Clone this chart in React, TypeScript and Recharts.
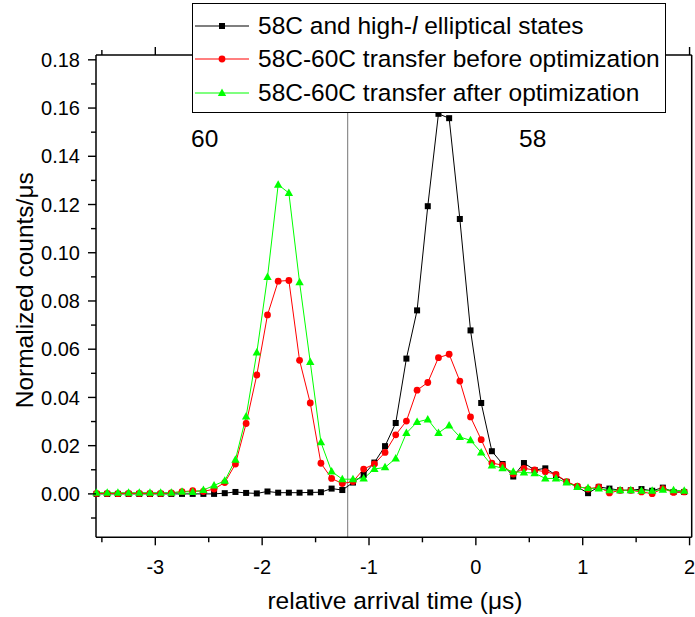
import { LineChart, Line, XAxis, YAxis, ReferenceLine, Legend } from 'recharts';

const FONT = '"Liberation Sans", Arial, Helvetica, sans-serif';

// arrival time bins (μs)
const times = [
  -3.55, -3.45, -3.35, -3.25, -3.15, -3.05, -2.95, -2.85, -2.75, -2.65,
  -2.55, -2.45, -2.35, -2.25, -2.15, -2.05, -1.95, -1.85, -1.75, -1.65,
  -1.55, -1.45, -1.35, -1.25, -1.15, -1.05, -0.95, -0.85, -0.75, -0.65,
  -0.55, -0.45, -0.35, -0.25, -0.15, -0.05, 0.05, 0.15, 0.25, 0.35,
  0.45, 0.55, 0.65, 0.75, 0.85, 0.95, 1.05, 1.15, 1.25, 1.35,
  1.45, 1.55, 1.65, 1.75, 1.85, 1.95,
];

const states58 = [
  0, 0, 0, 0, 0, 0, 0, 0, 0, 0,
  0, 0, 0.0003, 0.0008, 0.0004, 0.0002, 0.001, 0.0005, 0.0005, 0.0005,
  0.0006, 0.0007, 0.0022, 0.0016, 0.0047, 0.0079, 0.013, 0.0198, 0.0294, 0.0561,
  0.0761, 0.1193, 0.1576, 0.1558, 0.114, 0.0678, 0.0377, 0.0177, 0.0124, 0.0072,
  0.0128, 0.0099, 0.0106, 0.0078, 0.005, 0.0029, 0.0003, 0.0029, 0.0022, 0.0015,
  0.0015, 0.002, 0.0013, 0.0026, 0.0008, 0.0008,
];

const beforeOpt = [
  0.0002, 0.0002, 0.0001, 0.0002, 0.0002, 0.0002, 0.0002, 0.0004, 0.0009, 0.0013,
  0.001, 0.002, 0.0047, 0.0124, 0.0292, 0.0493, 0.0742, 0.0882, 0.0885, 0.0554,
  0.0377, 0.0127, 0.0064, 0.0043, 0.0051, 0.0103, 0.0124, 0.0172, 0.0245, 0.0302,
  0.043, 0.0462, 0.0565, 0.0579, 0.0468, 0.0319, 0.0225, 0.0128, 0.0119, 0.0082,
  0.0106, 0.0099, 0.0092, 0.0081, 0.0051, 0.0032, 0.002, 0.0029, 0.0004, 0.0015,
  0.0015, 0.0008, 0.0001, 0.0022, 0.0006, 0.0008,
];

const afterOpt = [
  0.0005, 0.0005, 0.0005, 0.0005, 0.0005, 0.0005, 0.0005, 0.0005, 0.0009, 0.0008,
  0.0016, 0.0035, 0.0054, 0.0142, 0.0321, 0.0586, 0.0899, 0.1282, 0.1248, 0.0878,
  0.0547, 0.0214, 0.0093, 0.0061, 0.0061, 0.0064, 0.0103, 0.011, 0.0147, 0.0252,
  0.0298, 0.0309, 0.0253, 0.0284, 0.0236, 0.0222, 0.0172, 0.0118, 0.0106, 0.0092,
  0.0089, 0.0086, 0.0064, 0.0064, 0.0047, 0.0029, 0.0024, 0.0022, 0.0015, 0.0015,
  0.0015, 0.0013, 0.0013, 0.0017, 0.0015, 0.0013,
];

const xTicks = [-3.5, -3, -2.5, -2, -1.5, -1, -0.5, 0, 0.5, 1, 1.5, 2];
const yTicks = [
  -0.01, 0, 0.01, 0.02, 0.03, 0.04, 0.05, 0.06, 0.07, 0.08, 0.09, 0.1,
  0.11, 0.12, 0.13, 0.14, 0.15, 0.16, 0.17, 0.18,
];

const data = times.map((t, i) => ({
  t,
  s58: states58[i],
  before: beforeOpt[i],
  after: afterOpt[i],
}));

const isMajorX = (v: number) => Number.isInteger(v);
const isMajorY = (v: number) => Math.round(v * 100) % 2 === 0;

function BottomTick({ x, y, payload }: any) {
  const v = payload.value;
  const major = isMajorX(v);
  return (
    <g>
      <line x1={x} x2={x} y1={y} y2={y + (major ? 8 : 5)} stroke="#000" strokeWidth={1.4} />
      {major && (
        <text x={x} y={y + 37} textAnchor="middle" fontSize={20} fontFamily={FONT} fill="#000">
          {String(v)}
        </text>
      )}
    </g>
  );
}

function TopTick({ x, y, payload }: any) {
  const major = isMajorX(payload.value);
  return <line x1={x} x2={x} y1={y} y2={y - (major ? 8 : 5)} stroke="#000" strokeWidth={1.4} />;
}

function LeftTick({ x, y, payload }: any) {
  const v = payload.value;
  const major = isMajorY(v);
  return (
    <g>
      <line x1={x} x2={x - (major ? 8 : 5)} y1={y} y2={y} stroke="#000" strokeWidth={1.4} />
      {major && (
        <text x={x - 16} y={y} dy="0.36em" textAnchor="end" fontSize={20} fontFamily={FONT} fill="#000">
          {v.toFixed(2)}
        </text>
      )}
    </g>
  );
}

function RightTick({ x, y, payload }: any) {
  const major = isMajorY(payload.value);
  return <line x1={x} x2={x + (major ? 8 : 5)} y1={y} y2={y} stroke="#000" strokeWidth={1.4} />;
}

const GREEN = '#00ff00';

const square = (p: any) => (
  <rect key={`sq-${p.index}`} x={p.cx - 3} y={p.cy - 3} width={6} height={6} fill="#000" />
);
const circle = (p: any) => <circle key={`ci-${p.index}`} cx={p.cx} cy={p.cy} r={3.4} fill="#ff0000" />;
const triangle = (p: any) => (
  <polygon
    key={`tr-${p.index}`}
    points={`${p.cx},${p.cy - 4.5} ${p.cx - 4.2},${p.cy + 3} ${p.cx + 4.2},${p.cy + 3}`}
    fill={GREEN}
  />
);

function LegendMarker({ kind, color }: { kind: string; color: string }) {
  return (
    <svg width={56} height={16} style={{ display: 'block' }}>
      <line x1={1} x2={55} y1={8} y2={8} stroke={color} strokeWidth={1.2} />
      {kind === 'square' && <rect x={25} y={5} width={6} height={6} fill={color} />}
      {kind === 'circle' && <circle cx={28} cy={8} r={3.4} fill={color} />}
      {kind === 'triangle' && <polygon points="28,3.5 23.8,11 32.2,11" fill={color} />}
    </svg>
  );
}

function LegendBox() {
  const rows = [
    { kind: 'square', color: '#000', label: <>58C and high-<i>l</i> elliptical states</> },
    { kind: 'circle', color: '#ff0000', label: <>58C-60C transfer before optimization</> },
    { kind: 'triangle', color: GREEN, label: <>58C-60C transfer after optimization</> },
  ];
  return (
    <div
      style={{
        width: 472,
        height: 103,
        border: '1px solid #000',
        background: '#fff',
        fontFamily: FONT,
        fontSize: 24.5,
        color: '#000',
        paddingTop: 5,
        boxSizing: 'content-box',
      }}
    >
      {rows.map((r, i) => (
        <div key={i} style={{ display: 'flex', alignItems: 'center', height: 33.5 }}>
          <div style={{ marginLeft: 1, marginRight: 8 }}>
            <LegendMarker kind={r.kind} color={r.color} />
          </div>
          <span style={{ whiteSpace: 'nowrap', lineHeight: 1 }}>{r.label}</span>
        </div>
      ))}
    </div>
  );
}

const textStyle = {
  position: 'absolute' as const,
  fontFamily: FONT,
  color: '#000',
  whiteSpace: 'nowrap' as const,
  lineHeight: 1,
};

export default function App() {
  return (
    <div style={{ position: 'absolute', left: 0, top: 0, width: 695, height: 617, background: '#fff' }}>
      <LineChart
        width={695}
        height={617}
        data={data}
        margin={{ top: 54, right: 2.3, bottom: 78.7, left: 95 }}
      >
        <XAxis
          dataKey="t"
          type="number"
          domain={[-3.555, 2.02]}
          ticks={xTicks}
          interval={0}
          height={1}
          tickSize={0}
          tickMargin={0}
          tickLine={false}
          tick={<BottomTick />}
          axisLine={{ stroke: '#000', strokeWidth: 1.5 }}
        />
        <XAxis
          xAxisId="top"
          orientation="top"
          dataKey="t"
          type="number"
          domain={[-3.555, 2.02]}
          ticks={xTicks}
          interval={0}
          height={1}
          tickSize={0}
          tickMargin={0}
          tickLine={false}
          tick={<TopTick />}
          axisLine={{ stroke: '#000', strokeWidth: 1.5 }}
        />
        <YAxis
          type="number"
          domain={[-0.018, 0.182]}
          ticks={yTicks}
          interval={0}
          width={1}
          tickSize={0}
          tickMargin={0}
          tickLine={false}
          tick={<LeftTick />}
          axisLine={{ stroke: '#000', strokeWidth: 1.5 }}
        />
        <YAxis
          yAxisId="right"
          orientation="right"
          type="number"
          domain={[-0.018, 0.182]}
          ticks={yTicks}
          interval={0}
          width={1}
          tickSize={0}
          tickMargin={0}
          tickLine={false}
          tick={<RightTick />}
          axisLine={{ stroke: '#000', strokeWidth: 1.5 }}
        />
        <ReferenceLine x={-1.2} stroke="#8c8c8c" strokeWidth={1.2} />
        <Legend
          layout="horizontal"
          verticalAlign="middle"
          align="center"
          wrapperStyle={{ top: 3, left: 192, width: 474, height: 110 }}
          content={() => <LegendBox />}
        />
        <Line
          type="linear"
          dataKey="s58"
          stroke="#000"
          strokeWidth={1}
          dot={square}
          activeDot={false}
          isAnimationActive={false}
        />
        <Line
          type="linear"
          dataKey="before"
          stroke="#ff0000"
          strokeWidth={1}
          dot={circle}
          activeDot={false}
          isAnimationActive={false}
        />
        <Line
          type="linear"
          dataKey="after"
          stroke={GREEN}
          strokeWidth={1}
          dot={triangle}
          activeDot={false}
          isAnimationActive={false}
        />
      </LineChart>
      <div style={{ ...textStyle, fontSize: 24.5, left: 191, top: 127 }}>60</div>
      <div style={{ ...textStyle, fontSize: 24.5, left: 519, top: 127 }}>58</div>
      <div style={{ ...textStyle, fontSize: 24.5, left: 0, width: 790, top: 589, textAlign: 'center' }}>
        relative arrival time (μs)
      </div>
      <div
        style={{
          ...textStyle,
          fontSize: 24.5,
          left: 25 - 150,
          top: 290 - 12,
          width: 300,
          textAlign: 'center',
          transform: 'rotate(-90deg)',
        }}
      >
        Normalized counts/μs
      </div>
    </div>
  );
}
